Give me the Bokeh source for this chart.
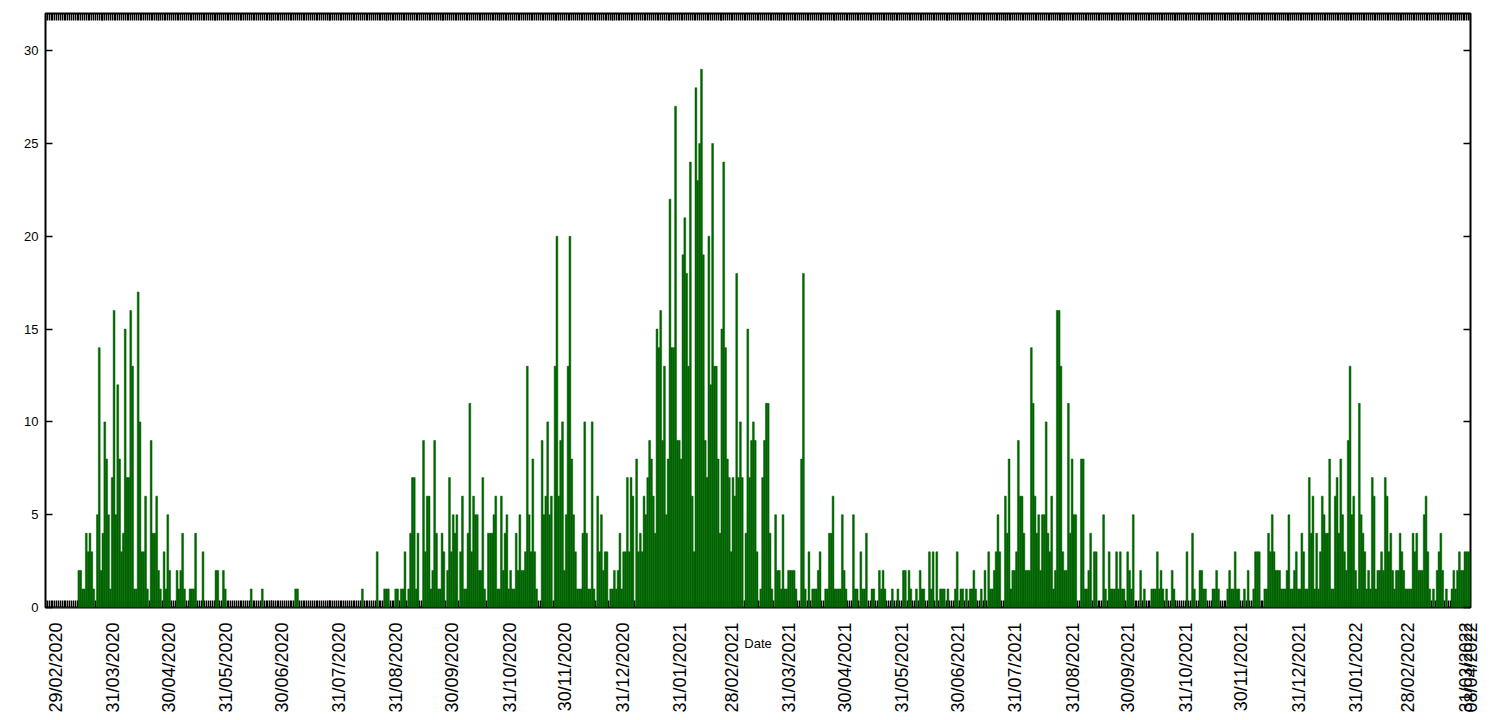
import math
from datetime import date, datetime, timedelta
from bokeh.plotting import figure
from bokeh.models import (Range1d, FixedTicker, LinearAxis, ColumnDataSource,
                          CustomJSTickFormatter)
from bokeh.embed import file_html
from bokeh.resources import INLINE

# ---- daily counts, one list per month ----
feb_2020 = [0]
mar_2020 = [0, 0, 0, 0, 0, 0, 0, 0, 0, 0, 0, 0, 0, 0, 0, 0, 0,
            2, 2, 1, 1, 4, 3, 4, 3, 1, 0, 5, 14, 2, 4]
apr_2020 = [10, 8, 5, 1, 7, 16, 5, 12, 8, 3, 4, 15, 7, 7, 16, 13, 1, 1, 17, 10,
            3, 3, 6, 1, 0, 9, 4, 4, 6, 2]
may_2020 = [1, 0, 3, 1, 5, 2, 0, 0, 0, 2, 1, 2, 4, 1, 0, 0, 1, 1, 1, 4,
            0, 0, 0, 3, 0, 0, 0, 0, 0, 0, 2]
jun_2020 = [2, 0, 0, 2, 1, 0, 0, 0, 0, 0, 0, 0, 0, 0, 0, 0, 0, 0, 1, 0,
            0, 0, 0, 0, 1, 0, 0, 0, 0, 0]
jul_2020 = [0, 0, 0, 0, 0, 0, 0, 0, 0, 0, 0, 0, 1, 1, 0, 0, 0, 0, 0, 0,
            0, 0, 0, 0, 0, 0, 0, 0, 0, 0, 0]
aug_2020 = [0, 0, 0, 0, 0, 0, 0, 0, 0, 0, 0, 0, 0, 0, 0, 0, 0, 1, 0, 0,
            0, 0, 0, 0, 0, 3, 0, 0, 0, 1, 1]
sep_2020 = [1, 0, 0, 0, 1, 1, 0, 1, 1, 3, 0, 1, 4, 7, 7, 1, 4, 0, 0, 9,
            3, 6, 6, 1, 2, 9, 4, 1, 1, 4]
oct_2020 = [3, 0, 2, 7, 3, 5, 4, 5, 0, 3, 6, 1, 1, 4, 11, 3, 6, 5, 5, 2,
            2, 7, 1, 0, 4, 4, 4, 5, 6, 1, 1]
nov_2020 = [6, 2, 4, 5, 1, 2, 1, 1, 4, 2, 5, 2, 2, 3, 13, 5, 3, 8, 3, 1,
            0, 0, 9, 5, 6, 10, 5, 6, 0, 13]
dec_2020 = [20, 6, 9, 10, 2, 5, 13, 20, 8, 5, 3, 1, 1, 1, 4, 10, 4, 1, 1, 10,
            1, 0, 6, 3, 5, 2, 3, 3, 0, 1, 1]
jan_2021 = [2, 1, 2, 4, 1, 3, 3, 7, 3, 7, 6, 0, 8, 3, 4, 3, 6, 5, 7, 9,
            8, 6, 4, 15, 14, 16, 9, 13, 5, 8, 22]
feb_2021 = [14, 14, 27, 9, 9, 8, 19, 21, 18, 13, 24, 6, 3, 28, 23, 25, 29, 19, 9, 7,
            20, 12, 25, 13, 13, 8, 4, 15]
mar_2021 = [24, 14, 8, 7, 3, 7, 6, 18, 7, 10, 7, 0, 4, 15, 7, 9, 10, 9, 3, 0,
            1, 7, 9, 11, 11, 4, 1, 0, 5, 2, 2]
apr_2021 = [1, 5, 1, 1, 2, 2, 2, 2, 1, 0, 0, 8, 18, 1, 0, 3, 0, 1, 1, 1,
            2, 3, 0, 0, 1, 1, 4, 4, 6, 1]
may_2021 = [1, 1, 1, 5, 2, 1, 0, 0, 0, 5, 1, 1, 0, 3, 1, 1, 4, 0, 0, 1,
            1, 0, 0, 2, 1, 2, 1, 0, 0, 0, 1]
jun_2021 = [0, 0, 1, 0, 0, 2, 2, 0, 2, 1, 0, 0, 1, 0, 2, 1, 1, 0, 0, 3,
            1, 3, 0, 3, 0, 1, 1, 1, 0, 1]
jul_2021 = [0, 0, 0, 1, 3, 0, 1, 1, 0, 1, 0, 1, 1, 2, 1, 0, 0, 1, 0, 2,
            0, 3, 1, 1, 2, 3, 5, 3, 0, 0, 6]
aug_2021 = [4, 8, 1, 2, 2, 3, 9, 6, 6, 4, 2, 2, 2, 14, 11, 6, 4, 5, 2, 5,
            5, 10, 4, 3, 6, 1, 2, 16, 16, 13, 3]
sep_2021 = [2, 2, 11, 4, 8, 5, 5, 0, 0, 8, 8, 1, 1, 2, 4, 0, 3, 3, 0, 0,
            0, 5, 1, 0, 3, 1, 1, 1, 3, 1]
oct_2021 = [3, 1, 1, 0, 3, 2, 1, 5, 0, 0, 0, 2, 0, 1, 0, 0, 0, 1, 1, 1,
            3, 1, 2, 1, 0, 1, 0, 0, 2, 1, 0]
nov_2021 = [0, 0, 0, 0, 0, 3, 0, 0, 4, 1, 0, 0, 2, 2, 1, 1, 0, 0, 0, 1,
            1, 2, 1, 0, 0, 0, 0, 1, 2, 1]
dec_2021 = [1, 3, 1, 1, 0, 0, 1, 0, 2, 0, 0, 1, 3, 3, 3, 0, 0, 1, 1, 4,
            3, 5, 3, 2, 2, 2, 1, 1, 1, 2, 5]
jan_2022 = [1, 1, 2, 3, 1, 1, 4, 3, 1, 1, 7, 4, 6, 1, 4, 1, 3, 6, 5, 4,
            4, 8, 1, 1, 6, 7, 4, 8, 5, 3, 2]
feb_2022 = [9, 13, 5, 6, 2, 1, 11, 5, 4, 3, 1, 2, 1, 7, 6, 1, 2, 2, 3, 2,
            7, 6, 3, 4, 2, 1, 2, 2]
mar_2022 = [4, 3, 2, 1, 1, 1, 1, 4, 3, 4, 2, 2, 2, 5, 6, 3, 1, 0, 1, 0,
            2, 3, 4, 2, 0, 1, 0, 0, 1, 2, 1]
apr_2022 = [2, 3, 2, 2, 3, 3, 3, 3]

tick_labels = ["29/02/2020", "31/03/2020", "30/04/2020", "31/05/2020", "30/06/2020",
               "31/07/2020", "31/08/2020", "30/09/2020", "31/10/2020", "30/11/2020",
               "31/12/2020", "31/01/2021", "28/02/2021", "31/03/2021", "30/04/2021",
               "31/05/2021", "30/06/2021", "31/07/2021", "31/08/2021", "30/09/2021",
               "31/10/2021", "30/11/2021", "31/12/2021", "31/01/2022", "28/02/2022",
               "31/03/2022", "08/04/2022"]
y_ticks = [0, 5, 10, 15, 20, 25, 30]
x_title = "Date"

months = [feb_2020, mar_2020, apr_2020, may_2020, jun_2020, jul_2020, aug_2020,
          sep_2020, oct_2020, nov_2020, dec_2020, jan_2021, feb_2021, mar_2021,
          apr_2021, may_2021, jun_2021, jul_2021, aug_2021, sep_2021, oct_2021,
          nov_2021, dec_2021, jan_2022, feb_2022, mar_2022, apr_2022]
counts = [v for m in months for v in m]
start = date(2020, 2, 29)
n = len(counts)
days = list(range(n))
tick_days = [(datetime.strptime(s, "%d/%m/%Y").date() - start).days for s in tick_labels]
last_day = n - 1

src = ColumnDataSource(dict(day=days, count=counts,
                            date=[(start + timedelta(days=d)).isoformat() for d in days]))

FONT = "Liberation Sans"
GREEN = "#006400"

p = figure(width=1512, height=720, x_range=Range1d(0, last_day), y_range=Range1d(0, 32),
           output_backend="svg", toolbar_location=None,
           x_axis_type=None, y_axis_type=None,
           min_border_left=45, min_border_right=42, min_border_top=13, min_border_bottom=113)
p.background_fill_color = "white"
p.border_fill_color = "white"
p.outline_line_color = "black"
p.outline_line_width = 2

p.vbar(x="day", top="count", width=1.0, bottom=0, source=src,
       fill_color=GREEN, line_color=GREEN, line_width=0.5)

empty = CustomJSTickFormatter(code="return ''")


def tick_axis():
    """Daily inward ticks, drawn underneath the bars (no labels)."""
    ax = LinearAxis(ticker=FixedTicker(ticks=tick_days, minor_ticks=days), formatter=empty,
                    major_tick_in=7, major_tick_out=0, minor_tick_in=7, minor_tick_out=0,
                    major_tick_line_width=1.4, minor_tick_line_width=1.4,
                    major_label_standoff=0, axis_line_color=None)
    ax.level = "underlay"
    return ax


p.add_layout(tick_axis(), "below")
p.add_layout(tick_axis(), "above")

# label positions: the rotated labels sit a little right of their tick
label_pos = [min(d + 5.4, last_day) for d in tick_days]
labels_axis = LinearAxis(ticker=FixedTicker(ticks=label_pos, minor_ticks=[]),
                         formatter=CustomJSTickFormatter(args=dict(labels=tick_labels),
                                                         code="return labels[index];"),
                         major_tick_in=0, major_tick_out=0, minor_tick_in=0, minor_tick_out=0,
                         axis_line_color=None,
                         major_label_orientation=math.pi / 2, major_label_standoff=15,
                         major_label_text_font=FONT, major_label_text_font_size="18px",
                         major_label_text_color="black",
                         axis_label=x_title, axis_label_standoff=-80,
                         axis_label_text_font=FONT, axis_label_text_font_size="13px",
                         axis_label_text_font_style="normal", axis_label_text_color="black")
p.add_layout(labels_axis, "below")

left = LinearAxis(ticker=FixedTicker(ticks=y_ticks, minor_ticks=[]),
                  major_tick_in=7, major_tick_out=0, minor_tick_in=0, minor_tick_out=0,
                  major_tick_line_width=1.5, axis_line_color=None,
                  major_label_standoff=7, major_label_text_font=FONT,
                  major_label_text_font_size="13px", major_label_text_color="black")
p.add_layout(left, "left")
right = LinearAxis(ticker=FixedTicker(ticks=y_ticks, minor_ticks=[]), formatter=empty,
                   major_tick_in=7, major_tick_out=0, minor_tick_in=0, minor_tick_out=0,
                   major_tick_line_width=1.5, axis_line_color=None)
p.add_layout(right, "right")

open("out.html", "w").write(file_html(p, INLINE))
